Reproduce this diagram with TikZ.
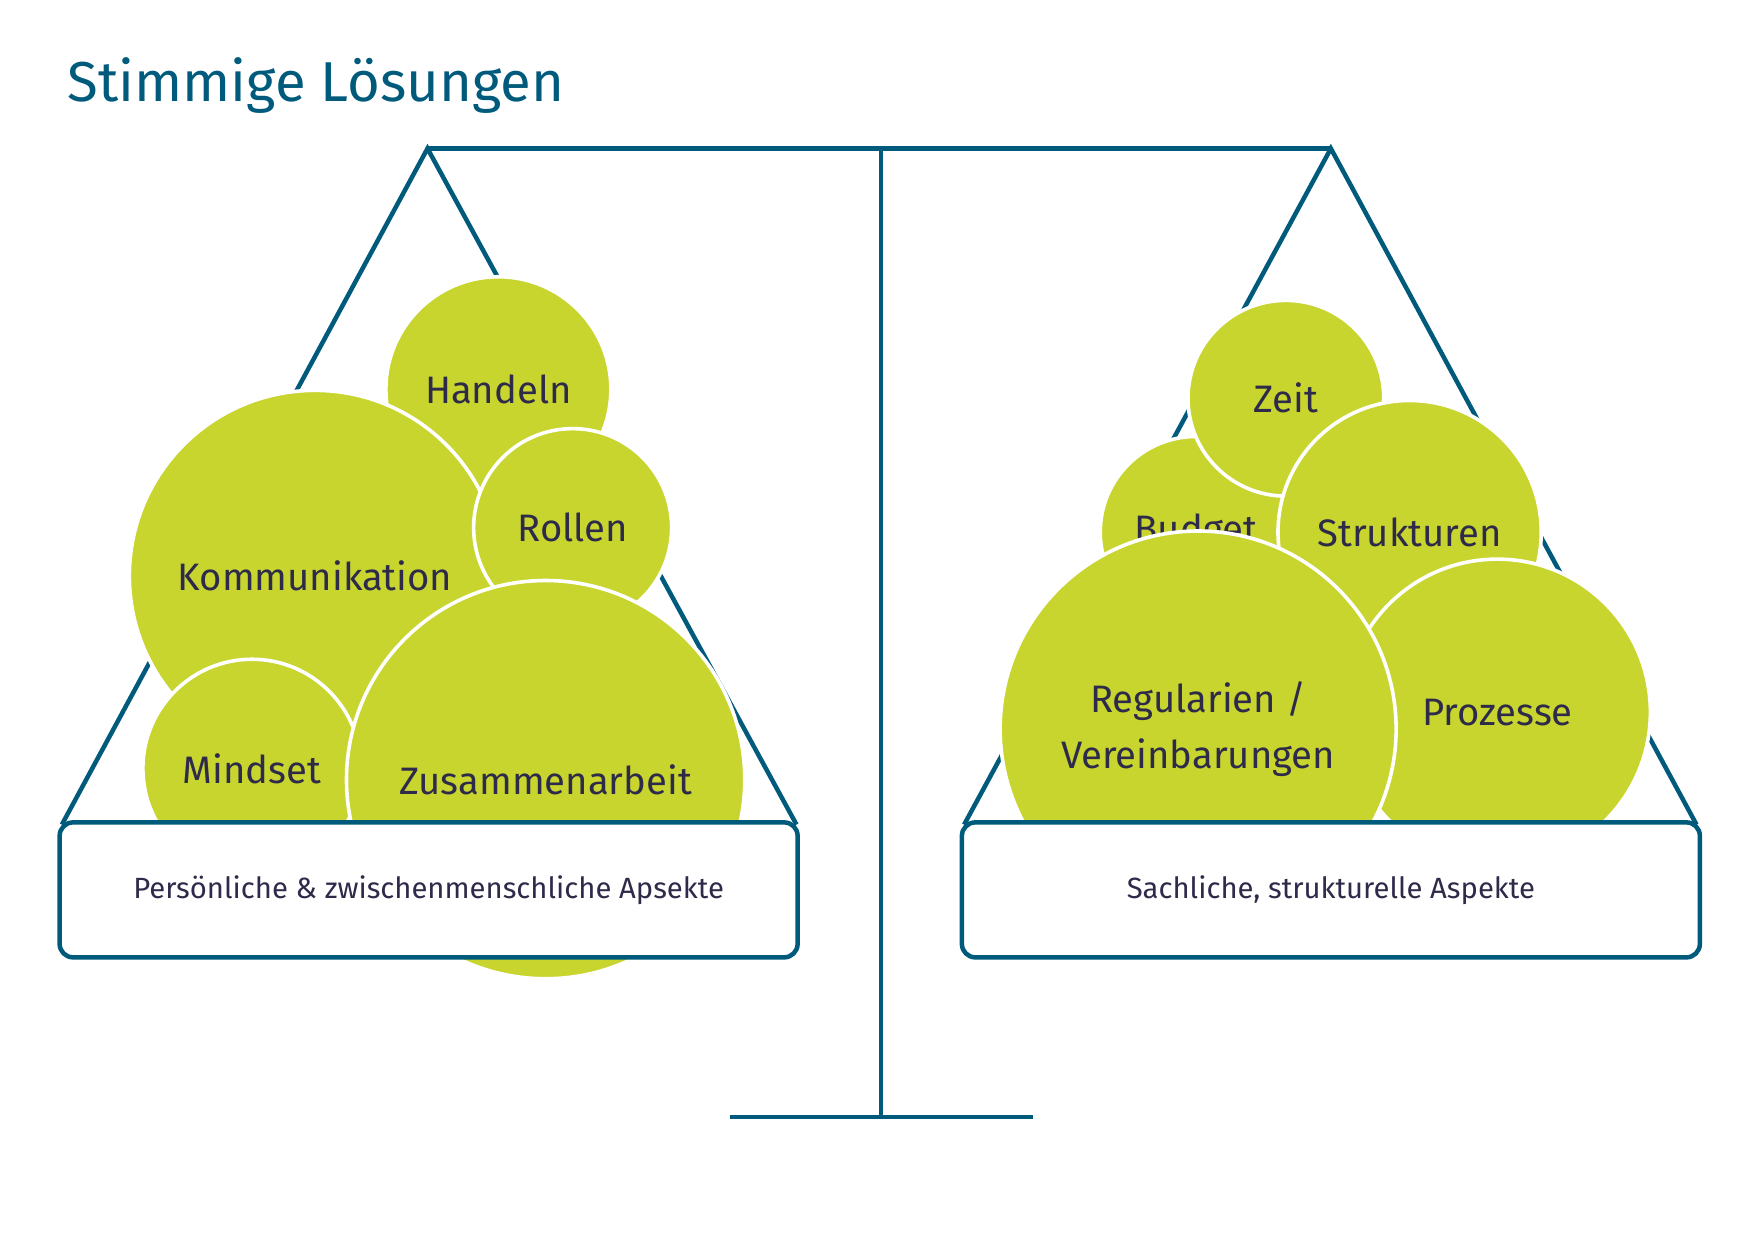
\documentclass[tikz,border=0pt]{standalone}
\usepackage{fontspec}
\setmainfont{Fira Sans}
\definecolor{scaleblue}{RGB}{0,90,124}
\definecolor{lime}{RGB}{200,213,46}
\definecolor{inktext}{RGB}{46,42,74}
\tikzset{
  bubble/.style={circle,fill=lime,draw=white,line width=1.6pt,inner sep=0pt,
    text=inktext,font=\fontsize{17}{20}\selectfont,align=center},
  beam/.style={draw=scaleblue,line width=2pt},
  panbox/.style={draw=scaleblue,line width=2pt,fill=white,rounded corners=6pt,
    minimum width=328pt,minimum height=60pt,text=inktext,font=\fontsize{13}{15}\selectfont}
}
\begin{document}
\begin{tikzpicture}[x=0.5pt,y=-0.5pt]
\useasboundingbox (0,0) rectangle (1560,1103);

% title
\node (title) [anchor=west,text=scaleblue,font=\fontsize{25}{30}\selectfont] at (53,76) {Stimmige Lösungen};

% stand
\coordinate (apexL) at (380,132);
\coordinate (apexR) at (1183,132);
\coordinate (top) at (783,132);
\coordinate (foot) at (783,993);
\draw[beam] (apexL) -- (apexR);
\draw[beam] (top) -- (foot);
\draw[beam] (649,993) -- (918,993);
\draw[beam] (55,733) -- (apexL) -- (708,733);
\draw[beam] (857,733) -- (apexR) -- (1508,733);

% left pan
\node (handeln) [bubble,minimum size=100pt] at (443,346) {Handeln};
\node (komm) [bubble,minimum size=165pt] at (280,512) {Kommunikation};
\node (rollen) [bubble,minimum size=88pt] at (509,469) {Rollen};
\node (mindset) [bubble,minimum size=97pt] at (224,683) {Mindset};
\node (zusammen) [bubble,minimum size=177pt] at (485,693) {Zusammenarbeit};

% right pan
\node (budget) [bubble,minimum size=85pt] at (1063,473) {Budget};
\node (zeit) [bubble,minimum size=87pt] at (1143,354) {Zeit};
\node (strukt) [bubble,minimum size=117pt] at (1253,473) {Strukturen};
\node (prozesse) [bubble,minimum size=136pt] at (1331,633) {Prozesse};
\node (regul) [bubble,minimum size=176pt,font=\fontsize{17}{25}\selectfont] at (1065,648) {Regularien /\\Vereinbarungen};

% boxes
\node (boxL) [panbox] at (381,791) {Persönliche \& zwischenmenschliche Apsekte};
\node (boxR) [panbox] at (1183,791) {Sachliche, strukturelle Aspekte};
\end{tikzpicture}
\end{document}
